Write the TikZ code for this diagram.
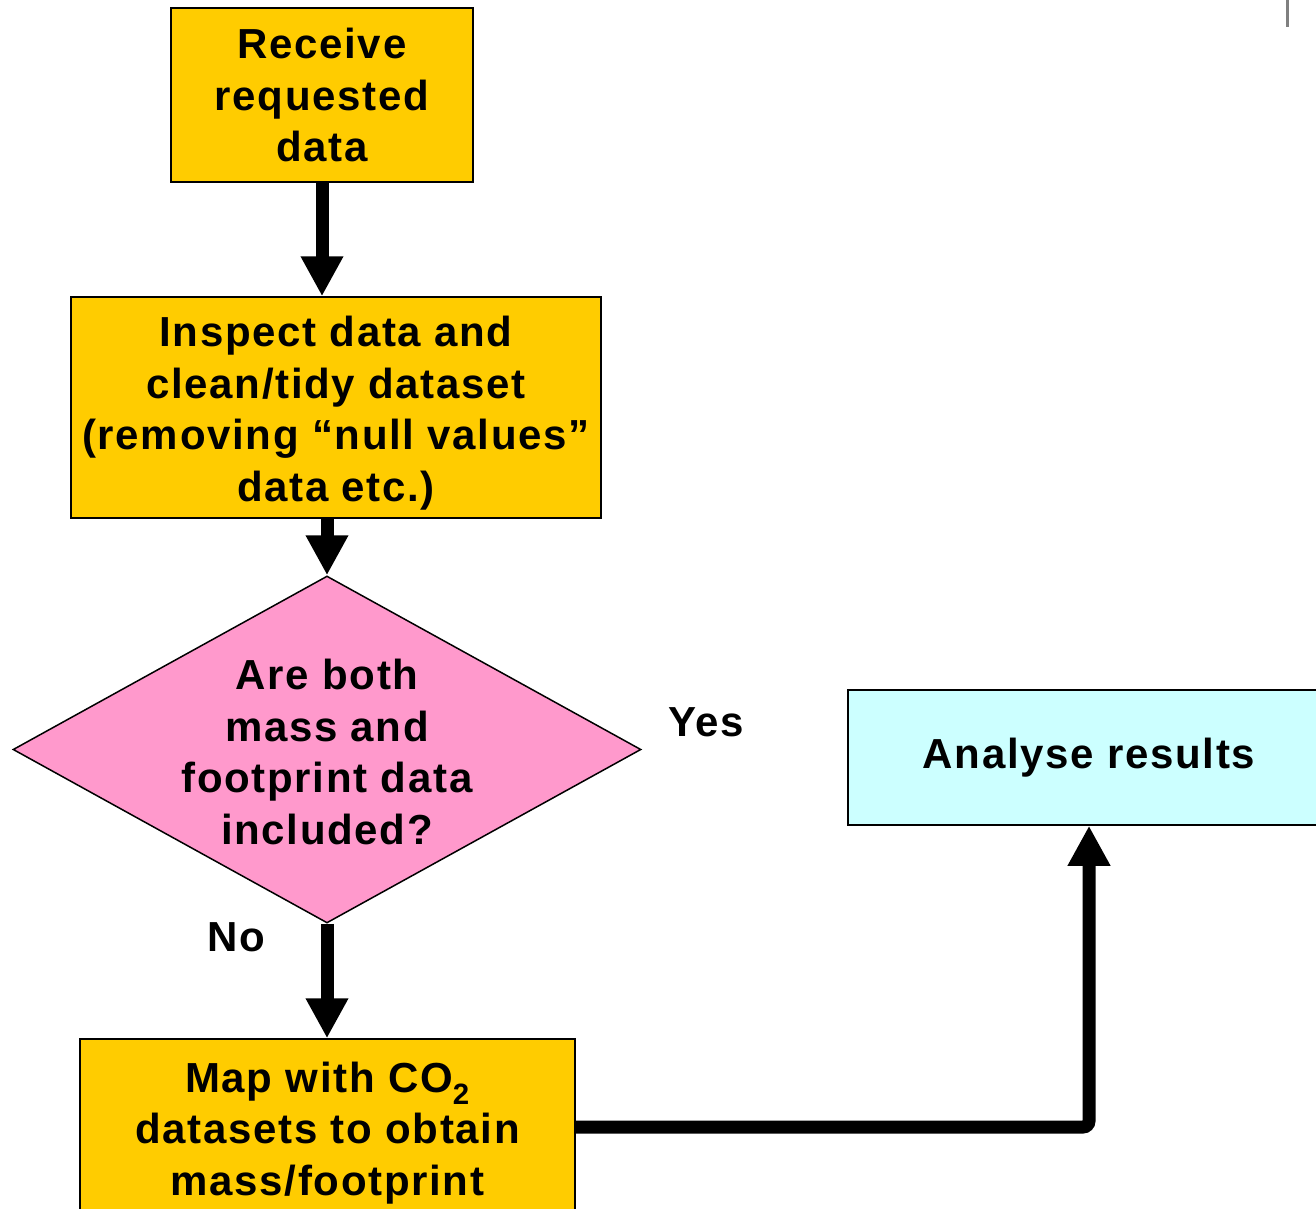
\documentclass[tikz,border=0pt]{standalone}
\usepackage{fontspec}
\setmainfont[LetterSpace=4]{Liberation Sans}
\usetikzlibrary{arrows.meta, shapes.geometric}
\definecolor{boxyellow}{HTML}{FFCC00}
\definecolor{decpink}{HTML}{FF99CC}
\definecolor{rescyan}{HTML}{CCFFFF}
\newcommand{\firstline}{\rule{0pt}{42pt}}
\begin{document}
\begin{tikzpicture}[x=1pt, y=-1pt,
    every node/.style={font=\bfseries\fontsize{42}{51.5}\selectfont, align=center},
    stage/.style={draw, line width=1.5pt, fill=boxyellow, inner sep=0pt},
    flow/.style={line width=13pt, -{Triangle[length=40pt, width=40pt]}}]
    \useasboundingbox (0, 0) rectangle (1316, 1209);
    \clip (0, 0) rectangle (1316, 1209);
    \node[stage, minimum width=302pt, minimum height=174pt] (receive) at (322, 95)
        {Receive\\requested\\data};
    \node[stage, minimum width=530pt, minimum height=221pt] (inspect) at (336, 407.5)
        {\firstline Inspect data and\\clean/tidy dataset\\(removing “null values”\\data etc.)};
    \node[diamond, draw, line width=1.5pt, fill=decpink, inner sep=0pt,
        minimum width=628pt, minimum height=347pt] (check) at (327, 749.5) {};
    \node (checktext) at (327, 752) {Are both\\mass and\\footprint data\\included?};
    \node[stage, minimum width=495pt, minimum height=176pt] (map) at (327.5, 1127)
        {\firstline Map with CO\textsubscript{2}\\datasets to obtain\\mass/footprint};
    \node[draw, line width=1.5pt, fill=rescyan, minimum width=482pt, minimum height=135pt]
        (results) at (1089, 757.5) {Analyse results};
    \node (yes) at (706, 722) {Yes};
    \node (no) at (236, 937) {No};
    % connectors
    \draw[flow] (receive.south) -- (receive.south |- inspect.north);
    \draw[flow] (inspect.south -| check.north) -- (check.north);
    \draw[flow] (check.south) -- (map.north -| check.south);
    \draw[flow, rounded corners=6pt] (map.east) -- (map.east -| results.south) -- (results.south);
    \draw[gray, line width=3pt] (1287, 0) -- (1287, 27);
\end{tikzpicture}
\end{document}
